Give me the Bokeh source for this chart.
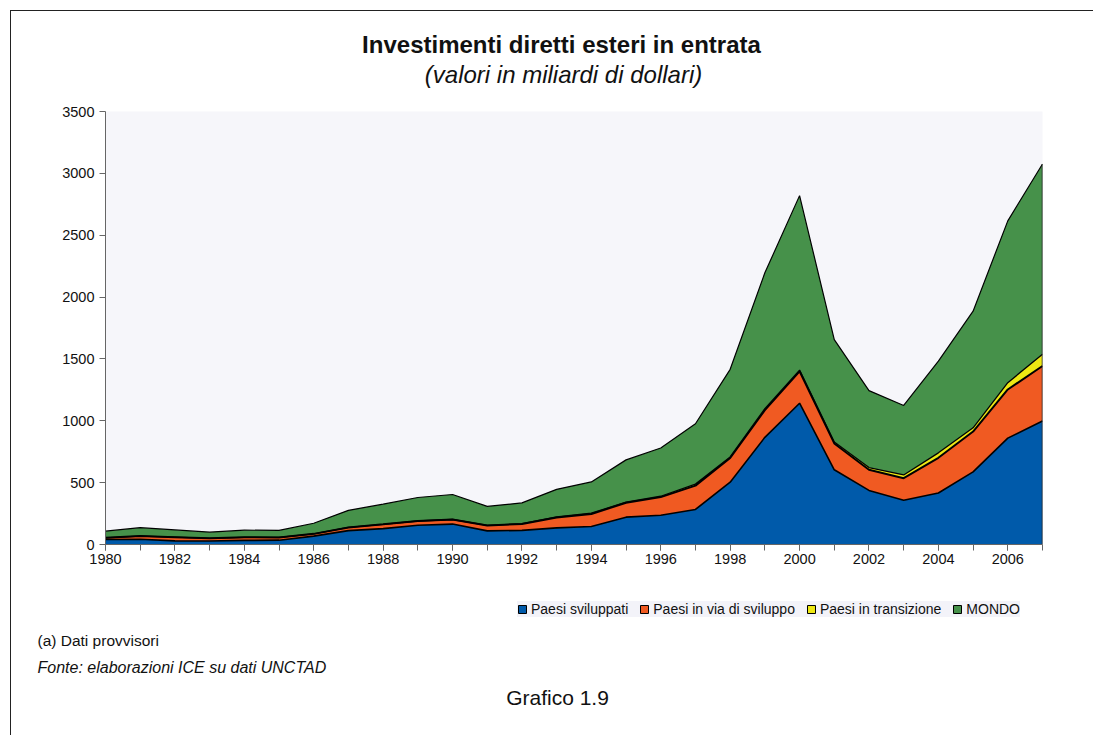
from bokeh.plotting import figure
from bokeh.models import ColumnDataSource, Legend, LegendItem, FixedTicker, Range1d, Label
from bokeh.layouts import column
from bokeh.transform import stack
from bokeh.embed import file_html
from bokeh.resources import INLINE

# ---------------- data (miliardi di dollari) ----------------
years = list(range(1980, 2008))
paesi_sviluppati = [41, 43, 29, 28, 33, 35, 68, 112, 128, 156, 165, 110, 114, 134, 146, 221, 236, 283,
                    504, 866, 1142, 604, 437, 358, 416, 587, 860, 998]
paesi_in_via = [13, 25, 30, 22, 25, 22, 18, 26, 35, 34, 37, 44, 52, 85, 101, 116, 147, 193,
                195, 220, 258, 213, 167, 178, 285, 326, 393, 445]
paesi_transizione = [0, 0, 0, 0, 0, 0, 0, 0, 0, 0, 0, 0, 2, 4, 6, 5, 7, 12,
                     9, 12, 10, 11, 18, 26, 40, 30, 55, 95]
mondo = [54, 68, 59, 50, 58, 57, 86, 138, 163, 190, 202, 154, 168, 223, 253, 342, 390, 488,
         708, 1098, 1410, 828, 622, 562, 741, 943, 1308, 1538]

series_names = ["Paesi sviluppati", "Paesi in via di sviluppo", "Paesi in transizione", "MONDO"]
series_keys = ["dev", "devl", "trans", "mondo"]
colors = ["#005AAA", "#F05A22", "#EEE813", "#46914A"]
x_tick_labels = [str(y) for y in range(1980, 2008, 2)]
y_ticks = [0, 500, 1000, 1500, 2000, 2500, 3000, 3500]

title_text = "Investimenti diretti esteri in entrata"
subtitle_text = "(valori in miliardi di dollari)"
note_text = "(a) Dati provvisori"
source_text = "Fonte: elaborazioni ICE su dati UNCTAD"
caption_text = "Grafico 1.9"

FONT = "Liberation Sans"
W = 1082
NAN = float("nan")


def blank(height):
    f = figure(width=W, height=height, x_range=Range1d(0, 1), y_range=Range1d(0, 1),
               x_axis_location=None, y_axis_location=None, output_backend="svg",
               toolbar_location=None, min_border=0, min_border_left=0, min_border_right=0,
               min_border_top=0, min_border_bottom=0, frame_align=False)
    f.grid.visible = False
    f.outline_line_color = None
    f.background_fill_color = "white"
    f.border_fill_color = "white"
    return f


# ---------------- header ----------------
h = blank(90)
h.add_layout(Label(x=550, y=57, x_units="screen", y_units="screen", text=title_text,
                   text_align="center", text_baseline="middle", text_font=FONT,
                   text_font_style="bold", text_font_size="24px", text_color="#111"))
h.add_layout(Label(x=552, y=27, x_units="screen", y_units="screen", text=subtitle_text,
                   text_align="center", text_baseline="middle", text_font=FONT,
                   text_font_style="italic", text_font_size="24px", text_color="#111"))

# ---------------- main chart ----------------
src = ColumnDataSource(dict(year=years, dev=paesi_sviluppati, devl=paesi_in_via,
                            trans=paesi_transizione, mondo=mondo))

p = figure(width=W, height=484, x_range=Range1d(1980, 2007), y_range=Range1d(0, 3500),
           output_backend="svg", toolbar_location=None, frame_align=False,
           min_border_left=94, min_border_right=51, min_border_top=10, min_border_bottom=41)
p.background_fill_color = "#F6F6FA"
p.border_fill_color = "white"
p.outline_line_color = None
p.grid.visible = False

p.varea_stack(stackers=series_keys, x="year", color=colors, source=src)
line_widths = [1.6, 2.0, 1.3, 1.2]
for i in range(len(series_keys)):
    p.line(x="year", y=stack(*series_keys[:i + 1]), source=src,
           line_color="black", line_width=line_widths[i])
total_last = paesi_sviluppati[-1] + paesi_in_via[-1] + paesi_transizione[-1] + mondo[-1]
p.line(x=[years[-1], years[-1]], y=[0, total_last], line_color="#222", line_width=1.5)

xa = p.xaxis[0]
xa.ticker = FixedTicker(ticks=[int(t) for t in x_tick_labels], minor_ticks=years)
xa.major_tick_out = 6
xa.minor_tick_out = 6
xa.major_tick_in = 0
xa.minor_tick_in = 0
xa.axis_line_color = "#666"
xa.major_tick_line_color = "#666"
xa.minor_tick_line_color = "#666"
xa.major_label_text_font = FONT
xa.major_label_text_font_size = "14.5px"
xa.major_label_text_color = "#111"
xa.major_label_standoff = 3

ya = p.yaxis[0]
ya.ticker = FixedTicker(ticks=y_ticks)
ya.minor_tick_line_color = None
ya.major_tick_out = 6
ya.major_tick_in = 0
ya.axis_line_color = "#666"
ya.major_tick_line_color = "#666"
ya.major_label_text_font = FONT
ya.major_label_text_font_size = "14.5px"
ya.major_label_text_color = "#111"
ya.major_label_standoff = 5

# ---------------- footer: legend + notes ----------------
f = blank(150)
legend_items = []
for name, c in zip(series_names, colors):
    # placeholder (NaN) glyph: nothing is drawn, only the legend swatch
    r = f.quad(left=[NAN], right=[NAN], top=[NAN], bottom=[NAN],
               fill_color=c, line_color="black", line_width=1)
    legend_items.append(LegendItem(label=name, renderers=[r]))
legend = Legend(items=legend_items, orientation="horizontal", location=(506, 118),
                glyph_width=10, glyph_height=10, label_standoff=4, spacing=11, padding=3, margin=0,
                label_height=15, background_fill_color="#F3F3F9", background_fill_alpha=1.0,
                border_line_color=None, label_text_font=FONT, label_text_font_size="14px",
                label_text_color="#111")
f.add_layout(legend, "center")
f.add_layout(Label(x=26, y=95, x_units="screen", y_units="screen", text=note_text,
                   text_align="left", text_baseline="middle", text_font=FONT,
                   text_font_size="15.5px", text_color="#111"))
f.add_layout(Label(x=26, y=68, x_units="screen", y_units="screen", text=source_text,
                   text_align="left", text_baseline="middle", text_font=FONT,
                   text_font_style="italic", text_font_size="16px", text_color="#111"))
f.add_layout(Label(x=546, y=38, x_units="screen", y_units="screen", text=caption_text,
                   text_align="center", text_baseline="middle", text_font=FONT,
                   text_font_size="21px", text_color="#111"))

layout = column(h, p, f, spacing=0,
                styles={"margin-left": "10px", "margin-top": "10px",
                        "border-left": "1px solid #222", "border-top": "1px solid #222"})

open("out.html", "w").write(file_html(layout, INLINE))
